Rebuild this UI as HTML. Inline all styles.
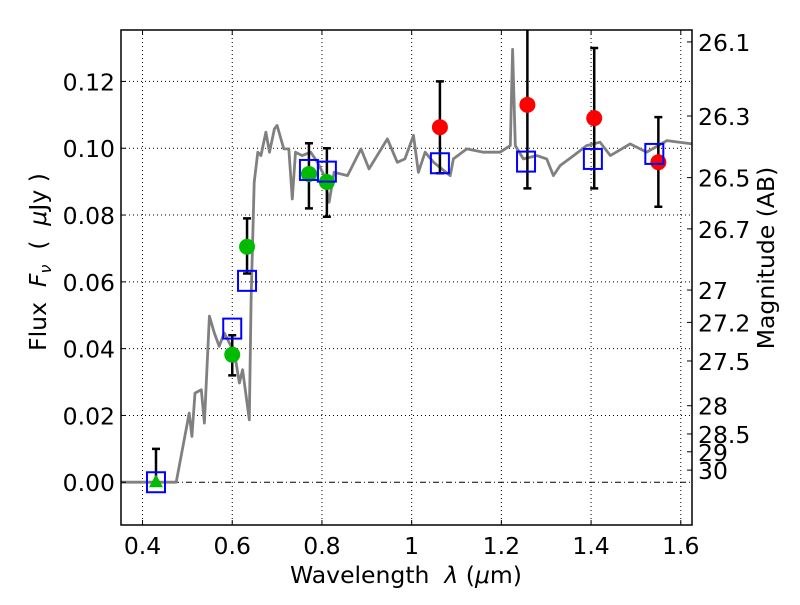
<!DOCTYPE html>
<html><head><meta charset="utf-8"><style>
body{margin:0;background:#fff}
svg text{font-family:"DejaVu Sans","Liberation Sans",sans-serif;font-size:23.5px;fill:#000}
</style></head><body>
<svg id="chart" width="800" height="600" xmlns="http://www.w3.org/2000/svg">
<rect width="800" height="600" fill="#fff"/>
<g id="grid"></g><g id="series"></g><g id="axes"></g>
</svg>
<script>
const specLam=[0.352,0.475,0.504,0.51,0.517,0.531,0.538,0.549,0.56,0.571,0.582,0.605,0.616,0.623,0.638,0.642,0.649,0.657,0.664,0.675,0.683,0.694,0.7,0.715,0.726,0.734,0.741,0.756,0.775,0.79,0.805,0.816,0.827,0.857,0.887,0.905,0.946,0.968,0.985,1.004,1.015,1.03,1.049,1.086,1.093,1.123,1.16,1.197,1.22,1.225,1.231,1.249,1.279,1.301,1.316,1.331,1.361,1.39,1.42,1.443,1.487,1.524,1.569,1.625];
const specFlux=[0,0,0.0207,0.0137,0.0267,0.0277,0.0177,0.0497,0.0447,0.0407,0.0447,0.0387,0.0297,0.0337,0.0187,0.0547,0.0898,0.0988,0.0978,0.1048,0.0988,0.1058,0.1068,0.0998,0.0998,0.0848,0.0988,0.0978,0.0988,0.0958,0.0918,0.0838,0.0928,0.0918,0.0998,0.0938,0.1028,0.0958,0.0968,0.1038,0.0928,0.0988,0.0958,0.0918,0.0968,0.0998,0.0988,0.0988,0.1008,0.1296,0.1008,0.0968,0.0978,0.0968,0.0918,0.0948,0.0978,0.1008,0.1018,0.0978,0.1013,0.0988,0.1023,0.1013];
const modelLam=[0.43,0.6,0.633,0.771,0.811,1.063,1.255,1.404,1.541];
const modelFlux=[0,0.046,0.0603,0.0935,0.093,0.0955,0.096,0.0968,0.0983];
const greenLam=[0.6,0.633,0.771,0.811];
const greenFlux=[0.0382,0.0705,0.0923,0.0899];
const greenLo=[0.032,0.0625,0.082,0.0795];
const greenHi=[0.044,0.079,0.1015,0.1];
const redLam=[1.063,1.258,1.407,1.55];
const redFlux=[0.1063,0.113,0.109,0.0958];
const redLo=[0.0925,0.088,0.088,0.0825];
const redHi=[0.12,0.14,0.13,0.1093];
const triLam=[0.43];const triFlux=[0];const triHi=[0.01];const triLo=[0];
const xTicks=[0.4,0.6,0.8,1,1.2,1.4,1.6];
const xTickLabels=["0.4","0.6","0.8","1","1.2","1.4","1.6"];
const yTicks=[0,0.02,0.04,0.06,0.08,0.1,0.12];
const yTickLabels=["0.00","0.02","0.04","0.06","0.08","0.10","0.12"];
const magTicks=[26.1,26.3,26.5,26.7,27,27.2,27.5,28,28.5,29,30];
const magTickLabels=["26.1","26.3","26.5","26.7","27","27.2","27.5","28","28.5","29","30"];

const L=121,R=692,T=30,B=525,X0=0.352,X1=1.625,Y0=-0.0128,Y1=0.1354;
const xs=v=>L+(v-X0)/(X1-X0)*(R-L);
const ys=v=>B-(v-Y0)/(Y1-Y0)*(B-T);
const NS="http://www.w3.org/2000/svg";
function mk(parent,tag,attrs){const e=document.createElementNS(NS,tag);for(const k in attrs)e.setAttribute(k,attrs[k]);document.getElementById(parent).appendChild(e);return e;}
xTicks.forEach(t=>{const e=mk('grid','line',{x1:xs(t),x2:xs(t),y1:T,y2:B,stroke:'#000','stroke-width':1,'stroke-dasharray':'1,3'});

});
yTicks.forEach(t=>{const e=mk('grid','line',{x1:L,x2:R,y1:ys(t),y2:ys(t),stroke:'#000','stroke-width':1,'stroke-dasharray':t===0?'6,3,1,3':'1,3'});

});
let d=specLam.map((l,i)=>(i?'L':'M')+xs(l).toFixed(1)+','+ys(specFlux[i]).toFixed(1)).join(' ');
const sp=mk('series','path',{d:d,fill:'none',stroke:'#808080','stroke-width':2.8,'stroke-linejoin':'round'});


function err(l,lo,hi,name){const x=xs(l),a=ys(lo),b=Math.max(ys(hi),T);
const e=mk('series','path',{d:`M${x},${a}V${b}M${x-4},${a}h8`+(ys(hi)>T?`M${x-4},${b}h8`:''),stroke:'#000','stroke-width':2.5,fill:'none'});

}
triLam.forEach((l,i)=>err(l,triLo[i],triHi[i],'triangle-errorbar'));
greenLam.forEach((l,i)=>err(l,greenLo[i],greenHi[i],'green-errorbar'));
redLam.forEach((l,i)=>err(l,redLo[i],redHi[i],'red-errorbar'));
triLam.forEach((l,i)=>{const x=xs(l),y=ys(triFlux[i]);const e=mk('series','path',{d:`M${x-7},${y+5}L${x},${y-8}L${x+7},${y+5}Z`,fill:'#00bb00'});

});
greenLam.forEach((l,i)=>{const e=mk('series','circle',{cx:xs(l),cy:ys(greenFlux[i]),r:8,fill:'#00bb00'});

});
redLam.forEach((l,i)=>{const e=mk('series','circle',{cx:xs(l),cy:ys(redFlux[i]),r:8,fill:'#ff0000'});

});
modelLam.forEach((l,i)=>{const e=mk('series','rect',{x:xs(l)-9,y:ys(modelFlux[i])-10,width:18,height:20,fill:'none',stroke:'#0000ff','stroke-width':2});

});
const fr=mk('axes','rect',{x:L,y:T,width:R-L,height:B-T,fill:'none',stroke:'#000','stroke-width':1.5});


xTicks.forEach((t,i)=>{const x=xs(t);mk('axes','path',{d:`M${x},${B}v-5M${x},${T}v5`,stroke:'#000'});
const e=mk('axes','text',{x:x,y:554,'text-anchor':'middle'});e.textContent=xTickLabels[i];

});
yTicks.forEach((t,i)=>{const y=ys(t);mk('axes','path',{d:`M${L},${y}h5`,stroke:'#000'});
const e=mk('axes','text',{x:115,y:y+9,'text-anchor':'end'});e.textContent=yTickLabels[i];

});
magTicks.forEach((m,i)=>{const y=ys(Math.pow(10,(23.9-m)/2.5));mk('axes','path',{d:`M${R},${y}h-5`,stroke:'#000'});
const e=mk('axes','text',{x:698,y:y+9});e.textContent=magTickLabels[i];

});
</script>
<svg width="800" height="600" style="position:absolute;left:0;top:0">
<text x="406" y="583" text-anchor="middle" style="font-family:'DejaVu Sans',sans-serif;font-size:23.5px">Wavelength&#160;&#160;<tspan font-style="italic">λ</tspan> (<tspan font-style="italic">μ</tspan>m)</text>
<text transform="translate(46,262) rotate(-90)" text-anchor="middle" style="font-family:'DejaVu Sans',sans-serif;font-size:23.5px">Flux&#160;&#160;<tspan font-style="italic">F</tspan><tspan font-style="italic" font-size="16" dy="5">ν</tspan><tspan dy="-5">&#160;&#160;(&#160;&#160;</tspan><tspan font-style="italic">μ</tspan>Jy )</text>
<text transform="translate(774,258) rotate(-90)" text-anchor="middle" style="font-family:'DejaVu Sans',sans-serif;font-size:23.5px">Magnitude (AB)</text>
</svg>
</body></html>
